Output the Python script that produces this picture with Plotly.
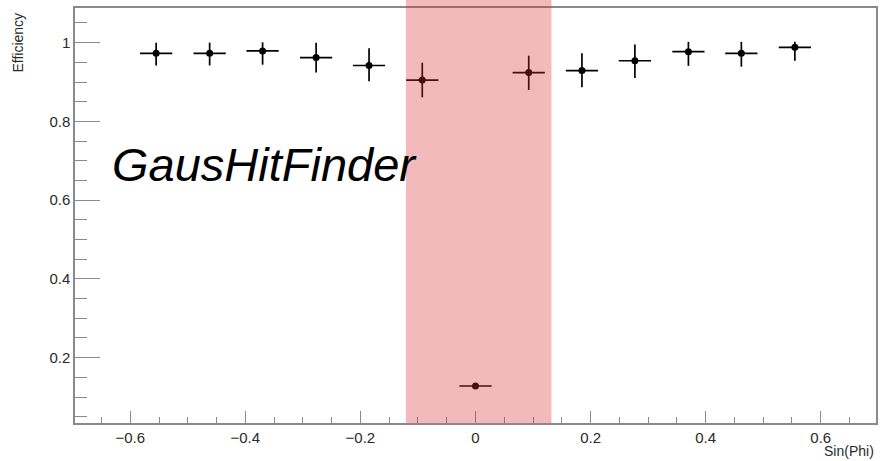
import plotly.graph_objects as go

# Data
sin_phi = [-0.555, -0.462, -0.370, -0.277, -0.185, -0.0925, 0.0, 0.0925, 0.185, 0.277, 0.370, 0.462, 0.555]
efficiency = [0.973, 0.973, 0.979, 0.962, 0.942, 0.905, 0.128, 0.924, 0.929, 0.954, 0.977, 0.973, 0.988]
err_up = [0.027, 0.027, 0.022, 0.038, 0.044, 0.044, 0.003, 0.043, 0.044, 0.041, 0.025, 0.029, 0.014]
err_down = [0.031, 0.031, 0.035, 0.038, 0.040, 0.044, 0.003, 0.044, 0.042, 0.044, 0.036, 0.034, 0.034]
x_err = [0.028] * len(sin_phi)

band_range = [-0.121, 0.132]
x_range = [-0.696, 0.696]
y_range = [0.034, 1.088]
x_ticks = [-0.6, -0.4, -0.2, 0, 0.2, 0.4, 0.6]
x_ticklabels = ["\u22120.6", "\u22120.4", "\u22120.2", "0", "0.2", "0.4", "0.6"]
y_ticks = [0.2, 0.4, 0.6, 0.8, 1.0]
y_ticklabels = ["0.2", "0.4", "0.6", "0.8", "1"]

FONT = "Liberation Sans, Arial, sans-serif"
AXIS_COLOR = "#8a8a8a"
TEXT_COLOR = "#2a2a2a"

fig = go.Figure()
fig.add_trace(go.Scatter(
    x=sin_phi, y=efficiency, mode="markers",
    marker=dict(color="black", size=7),
    error_y=dict(type="data", symmetric=False, array=err_up, arrayminus=err_down,
                 color="black", thickness=1.7, width=0),
    error_x=dict(type="data", array=x_err, color="black", thickness=1.7, width=0),
    showlegend=False,
))

fig.add_shape(type="rect", xref="x", yref="paper",
              x0=band_range[0], x1=band_range[1], y0=0, y1=1.03,
              fillcolor="rgba(215,45,45,0.33)", line=dict(width=0), layer="above")

fig.add_annotation(text="GausHitFinder", xref="paper", yref="paper",
                   x=0.044, y=0.624, xanchor="left", yanchor="middle", showarrow=False,
                   font=dict(family=FONT, size=47, color="black", style="italic"))
fig.add_annotation(text="Efficiency", xref="paper", yref="paper",
                   x=-0.0716, y=0.993, xanchor="center", yanchor="top", textangle=-90,
                   showarrow=False, font=dict(family=FONT, size=14, color=TEXT_COLOR))
fig.add_annotation(text="Sin(Phi)", xref="paper", yref="paper",
                   x=1.0, y=-0.043, xanchor="right", yanchor="top",
                   showarrow=False, font=dict(family=FONT, size=14, color=TEXT_COLOR))

fig.update_layout(
    width=880, height=461,
    margin=dict(l=75, r=2, t=8, b=38),
    paper_bgcolor="white", plot_bgcolor="white",
    font=dict(family=FONT, size=15, color=TEXT_COLOR),
    xaxis=dict(range=x_range, tickvals=x_ticks, ticktext=x_ticklabels,
               ticks="inside", ticklen=12, tickwidth=1.3, tickcolor=AXIS_COLOR,
               showline=True, linecolor=AXIS_COLOR, linewidth=1.5, mirror=True,
               showgrid=False, zeroline=False,
               minor=dict(dtick=0.05, tick0=0, ticks="inside", ticklen=6,
                          tickwidth=1.2, tickcolor=AXIS_COLOR, showgrid=False),
               tickfont=dict(size=15, color=TEXT_COLOR)),
    yaxis=dict(range=y_range, tickvals=y_ticks, ticktext=y_ticklabels,
               ticks="inside", ticklen=25, tickwidth=1.3, tickcolor=AXIS_COLOR,
               showline=True, linecolor=AXIS_COLOR, linewidth=1.5, mirror=True,
               showgrid=False, zeroline=False,
               minor=dict(dtick=0.05, tick0=0, ticks="inside", ticklen=12,
                          tickwidth=1.2, tickcolor=AXIS_COLOR, showgrid=False),
               tickfont=dict(size=15, color=TEXT_COLOR)),
)

fig.write_html("out.html")
